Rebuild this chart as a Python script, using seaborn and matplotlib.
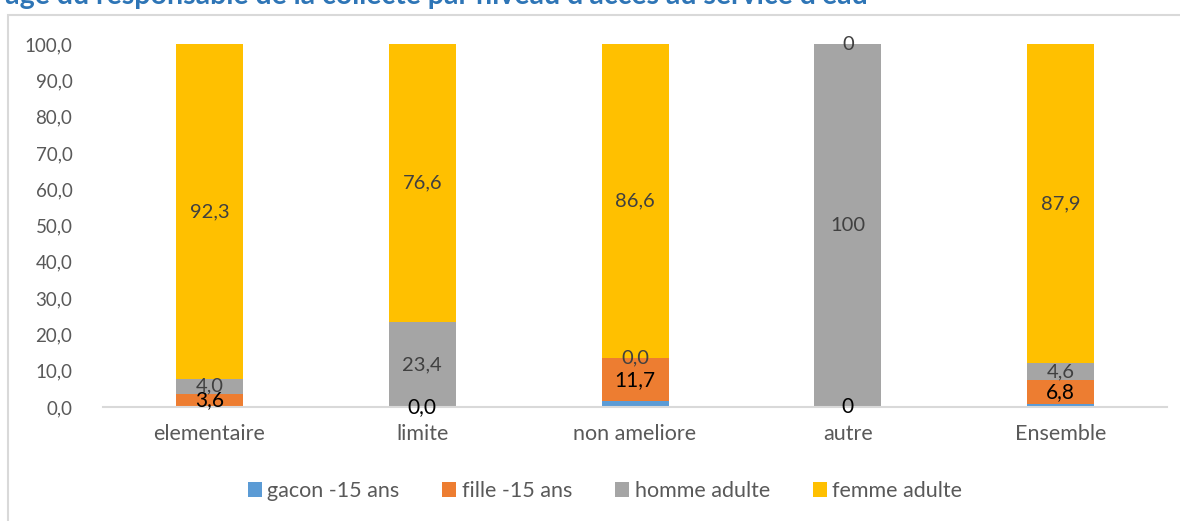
import matplotlib
matplotlib.use("Agg")
import matplotlib.pyplot as plt
import pandas as pd
import seaborn as sns
from matplotlib.patches import Rectangle

# ---------------------------------------------------
# Data
# ---------------------------------------------------
categories = ["elementaire", "limite", "non ameliore", "autre", "Ensemble"]
series_names = ["gacon -15 ans", "fille -15 ans", "homme adulte", "femme adulte"]

gacon = [0.1, 0.0, 1.7, 0.0, 0.7]
fille = [3.6, 0.0, 11.7, 0.0, 6.8]
homme = [4.0, 23.4, 0.0, 100.0, 4.6]
femme = [92.3, 76.6, 86.6, 0.0, 87.9]

fille_labels = ["3,6", "0,0", "11,7", "0", "6,8"]
homme_labels = ["4,0", "23,4", "0,0", "100", "4,6"]
femme_labels = ["92,3", "76,6", "86,6", "0", "87,9"]

yticks = [0, 10, 20, 30, 40, 50, 60, 70, 80, 90, 100]
colors = ["#5B9BD5", "#ED7D31", "#A5A5A5", "#FFC000"]

title = "l'age du responsable de la collecte par niveau d'accès au service d'eau"

# ---------------------------------------------------
# Plot
# ---------------------------------------------------
sns.set_style("white")
plt.rcParams["font.family"] = ["Lato", "DejaVu Sans"]

fig = plt.figure(figsize=(11.8, 5.21), dpi=100)
ax = fig.add_axes([0.0873, 0.2188, 0.9017, 0.6967])

df = pd.DataFrame({"cat": categories, "gacon": gacon, "fille": fille,
                   "homme": homme, "femme": femme})

bottom = [0.0] * len(categories)
for col, name, color in zip(["gacon", "fille", "homme", "femme"], series_names, colors):
    sns.barplot(data=df, x="cat", y=col, color=color, bottom=bottom,
                width=0.315, label=name, ax=ax, saturation=1, linewidth=0)
    bottom = [b + v for b, v in zip(bottom, df[col])]

# labels on segments
conts = ax.containers
ax.bar_label(conts[1], labels=fille_labels, label_type="center",
             fontsize=15, color="black")
ax.bar_label(conts[2], labels=homme_labels, label_type="center",
             fontsize=14.5, color="#404040")
ax.bar_label(conts[3], labels=femme_labels, label_type="center",
             fontsize=14.5, color="#404040")

ax.set_xlim(-0.5, 4.5)
ax.set_ylim(0, 100)
ax.set_yticks(yticks)
ax.set_yticklabels([f"{v:.1f}".replace(".", ",") for v in yticks])
ax.tick_params(axis="both", length=0, colors="#595959")
ax.tick_params(axis="x", pad=12, labelsize=15.5)
ax.tick_params(axis="y", pad=22, labelsize=13.5)
ax.set_xlabel("")
ax.set_ylabel("")
for side in ["top", "right", "left"]:
    ax.spines[side].set_visible(False)
ax.spines["bottom"].set_color("#D9D9D9")
ax.spines["bottom"].set_linewidth(1.5)

ax.legend(loc="center", bbox_to_anchor=(605 / 1180, 1 - 491 / 521),
          bbox_transform=fig.transFigure, ncol=4, frameon=False,
          fontsize=15.5, handlelength=0.65, handleheight=0.65,
          columnspacing=2.0, handletextpad=0.25, labelcolor="#595959")

# chart border
fig.patches.append(Rectangle((8 / 1180, -0.05), 1.1, 1 - 15 / 521 + 0.05,
                             transform=fig.transFigure, fill=False,
                             edgecolor="#D9D9D9", linewidth=1.5))

# title (cut off at top like the source)
fig.text(-8 / 1180, 1 - 4 / 521, title, fontsize=20.5, fontweight="bold",
         color="#2E75B6", ha="left", va="baseline")

fig.savefig("out.png", dpi=100)
